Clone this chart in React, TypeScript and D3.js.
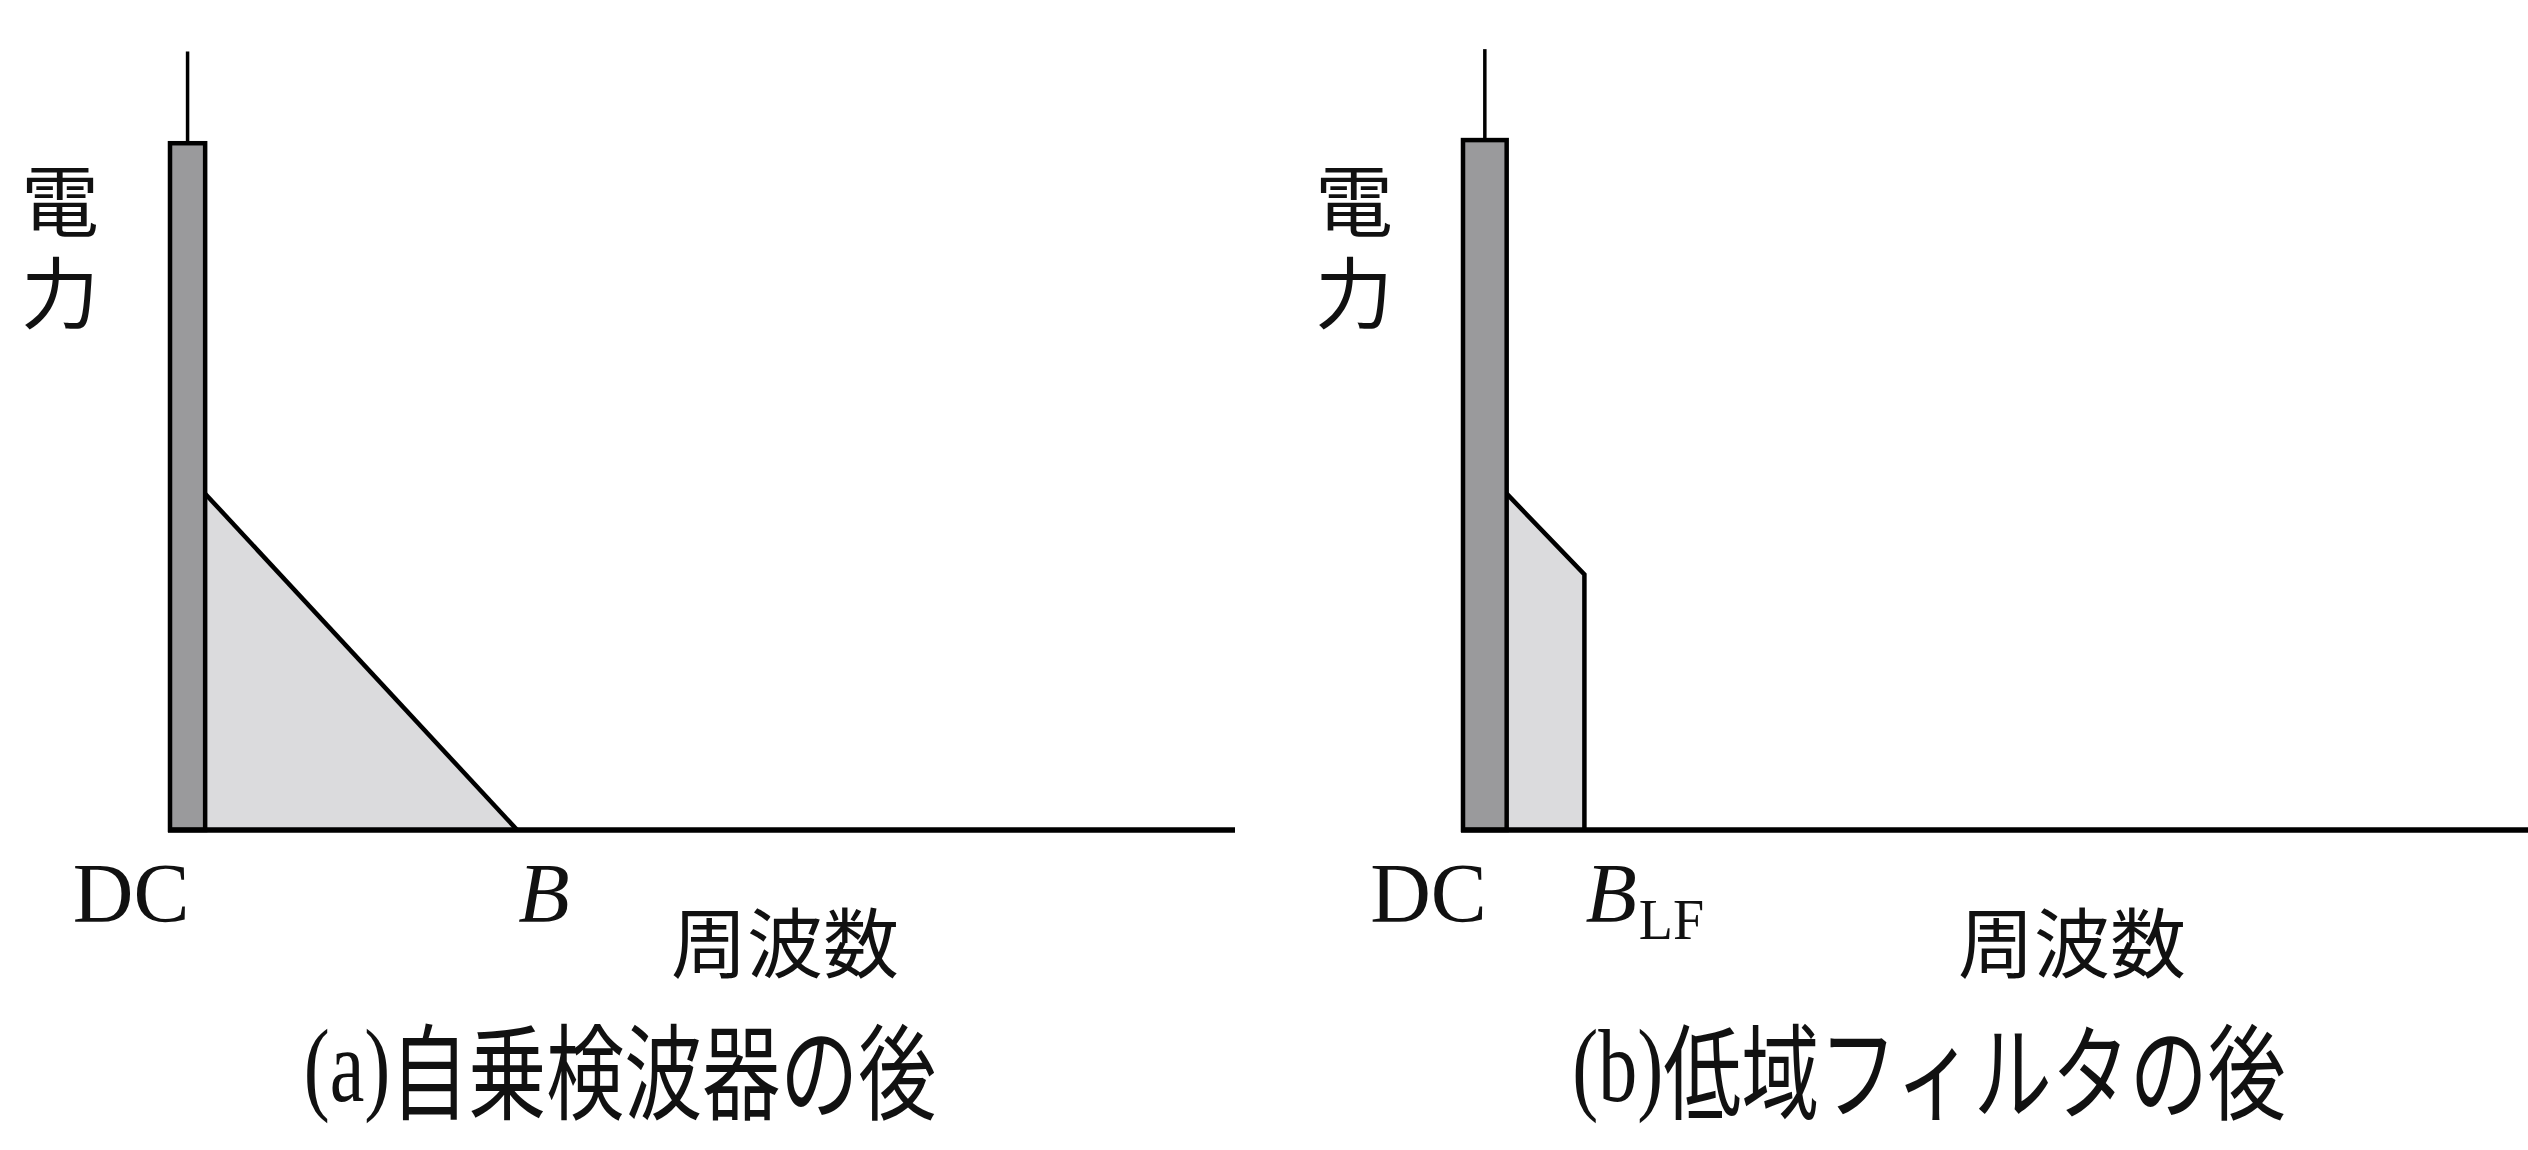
import React from "react";
import * as d3 from "d3";

// ---- data (frequency in relative units 0..100, power in relative units 0..100) ----
const freqDomain = [0, 100];
const powerDomain = [0, 100];

// Panel (a): after square-law detector
const dcBandA = [0, 3.3];
const dcPowerA = 87.6;
const spikePowerA = 99.3;
const spectrumA = [
  { f: 3.3, p: 42.9 },
  { f: 32.6, p: 0 },
];
const axisEndA = 100;

// Panel (b): after low-pass filter
const dcBandB = [0, 4.1];
const dcPowerB = 88;
const spikePowerB = 99.6;
const spectrumB = [
  { f: 4.1, p: 42.9 },
  { f: 11.4, p: 32.6 },
  { f: 11.4, p: 0 },
];
const axisEndB = 100;

const yLabel = "電力";
const xLabel = "周波数";
const captions = [
  { tag: "(a)", text: "自乗検波器の後" },
  { tag: "(b)", text: "低域フィルタの後" },
];

const W = 2528;
const H = 1150;
const SERIF = "'Liberation Serif', 'DejaVu Serif', serif";
const CJK = "'Noto Sans CJK JP', 'Noto Sans CJK SC', sans-serif";

type Pt = { f: number; p: number };

function Panel(props: {
  x0: number;
  dcBand: number[];
  dcPower: number;
  spikePower: number;
  spectrum: Pt[];
  axisEnd: number;
  cutoffLabel: string;
  cutoffSub?: string;
  yLabelX: number;
  xLabelX: number;
  caption: { tag: string; text: string };
  captionX: number;
}) {
  const x = d3.scaleLinear().domain(freqDomain).range([props.x0, props.x0 + 1065]);
  const y = d3.scaleLinear().domain(powerDomain).range([830, 46]);

  const spec = props.spectrum;
  const fillPts: [number, number][] = [
    [x(spec[0].f), y(0)],
    ...spec.map((d) => [x(d.f), y(d.p)] as [number, number]),
  ];
  const fillPath = d3.line()(fillPts.concat([[x(spec[spec.length - 1].f), y(0)]])) + "Z";
  const edgePath = d3.line<Pt>()
    .x((d) => x(d.f))
    .y((d) => y(d.p))(spec) as string;

  const bx0 = x(props.dcBand[0]);
  const bx1 = x(props.dcBand[1]);
  const bc = (bx0 + bx1) / 2;
  const cutoff = spec[spec.length - 1].f;

  return (
    <g>
      {/* continuous spectrum */}
      <path d={fillPath} fill="#dbdbdd" stroke="none" />
      <path d={edgePath} fill="none" stroke="#000" strokeWidth={4.5} strokeLinejoin="miter" />
      {/* DC component bar */}
      <rect
        x={bx0}
        y={y(props.dcPower)}
        width={bx1 - bx0}
        height={y(0) - y(props.dcPower)}
        fill="#9a9a9c"
        stroke="#000"
        strokeWidth={4.5}
      />
      {/* spike */}
      <line x1={bc} x2={bc} y1={y(props.dcPower)} y2={y(props.spikePower)} stroke="#000" strokeWidth={3.5} />
      {/* axis */}
      <line x1={bx0 - 2} x2={x(props.axisEnd)} y1={y(0)} y2={y(0)} stroke="#000" strokeWidth={5.5} />

      {/* y label (vertical writing) */}
      <text
        x={props.yLabelX}
        y={162}
        fontFamily={CJK}
        fontSize={78}
        fill="#111"
        style={{ writingMode: "vertical-rl", letterSpacing: "14px" } as React.CSSProperties}
      >
        {yLabel}
      </text>

      {/* tick labels */}
      <text x={bc + 2} y={922} fontFamily={SERIF} fontSize={84} textAnchor="end" fill="#111">
        DC
      </text>
      <text x={x(cutoff) + 1} y={922} fontFamily={SERIF} fontSize={84} fill="#111">
        <tspan fontStyle="italic">{props.cutoffLabel}</tspan>
        {props.cutoffSub ? (
          <tspan fontSize={56} dy={17} dx={2}>
            {props.cutoffSub}
          </tspan>
        ) : null}
      </text>

      {/* x label */}
      <text x={props.xLabelX} y={939} fontFamily={CJK} fontSize={76} textAnchor="middle" dominantBaseline="central" fill="#111">
        {xLabel}
      </text>

      {/* caption (condensed type) */}
      <g transform={`translate(${props.captionX},1066) scale(0.75,1)`}>
        <text x={0} y={0} fontSize={104} textAnchor="middle" dominantBaseline="central" fill="#111">
          <tspan fontFamily={SERIF}>{props.caption.tag}</tspan>
          <tspan fontFamily={CJK}>{props.caption.text}</tspan>
        </text>
      </g>
    </g>
  );
}

export default function App() {
  return (
    <svg
      width={W}
      height={H}
      viewBox={`0 0 ${W} ${H}`}
      style={{ position: "absolute", left: 0, top: 0, background: "#fff" }}
    >
      <rect x={0} y={0} width={W} height={H} fill="#fff" />
      <Panel
        x0={170}
        dcBand={dcBandA}
        dcPower={dcPowerA}
        spikePower={spikePowerA}
        spectrum={spectrumA}
        axisEnd={axisEndA}
        cutoffLabel="B"
        yLabelX={60}
        xLabelX={785}
        caption={captions[0]}
        captionX={620}
      />
      <Panel
        x0={1463}
        dcBand={dcBandB}
        dcPower={dcPowerB}
        spikePower={spikePowerB}
        spectrum={spectrumB}
        axisEnd={axisEndB}
        cutoffLabel="B"
        cutoffSub="LF"
        yLabelX={1354}
        xLabelX={2072}
        caption={captions[1]}
        captionX={1929}
      />
    </svg>
  );
}
